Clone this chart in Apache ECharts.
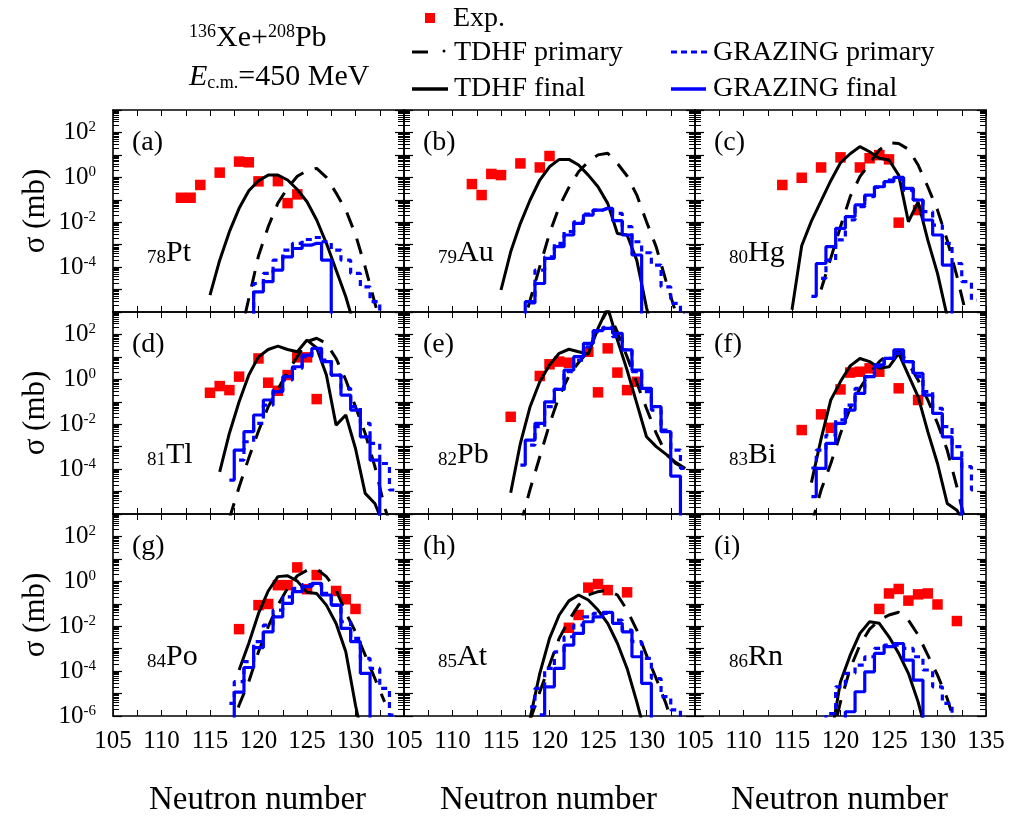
<!DOCTYPE html>
<html><head><meta charset="utf-8">
<script src="https://cdn.jsdelivr.net/npm/echarts@6/dist/echarts.min.js"></script>
<style>html,body{margin:0;padding:0;background:#fff}#c{width:1009px;height:817px}</style>
</head><body><div id="c"></div>
<script>
// ---------- DATA : [neutron number, log10(sigma / mb)] ----------
const panelLetters = ['(a)','(b)','(c)','(d)','(e)','(f)','(g)','(h)','(i)'];
const elementZ = [78,79,80,81,82,83,84,85,86];
const elementSymbol = ['Pt','Au','Hg','Tl','Pb','Bi','Po','At','Rn'];
const xTickValues = [105,110,115,120,125,130,135];
const yTickExponents = [-6,-4,-2,0,2];

// (a) 78Pt
const expA = [[112,-0.91],[113,-0.91],[114,-0.34],[116,0.21],[118,0.70],[119,0.67],[120,-0.18],[122,-0.17],[123,-1.15],[124,-0.76]];
const tdhfPrimA = [[118,-7.3],[119,-5.4],[120,-3.5],[121,-2.2],[122,-1.15],[123,-0.48],[124,0.05],[125,0.30],[126,0.40],[127,0.0],[128,-0.70],[129,-1.45],[130,-2.55],[131,-4.0],[132,-5.6],[133,-7.2]];
const tdhfFinA = [[115,-5.25],[116,-3.69],[117,-2.42],[118,-1.38],[119,-0.60],[120,-0.15],[121,0.10],[122,0.10],[123,-0.12],[124,-0.54],[125,-1.09],[126,-1.90],[127,-2.94],[128,-4.13],[129,-5.32],[130,-6.8]];
const gzPrimA = [[119,-6.6],[120,-4.73],[121,-4.28],[122,-3.69],[123,-3.24],[124,-2.94],[125,-2.77],[126,-2.68],[127,-2.87],[128,-3.24],[129,-3.69],[130,-4.28],[131,-4.88],[132,-5.54],[133,-6.5]];
const gzFinA = [[119,-7],[120,-5.1],[121,-4.65],[122,-4.13],[123,-3.54],[124,-3.17],[125,-3.02],[126,-2.94],[127,-3.69],[128,-7]];

// (b) 79Au
const expB = [[112,-0.30],[113,-0.79],[114,0.15],[115,0.10],[117,0.62],[119,0.44],[120,0.95]];
const tdhfPrimB = [[117,-7],[118,-5.47],[119,-3.98],[120,-2.50],[121,-1.31],[122,-0.45],[123,0.25],[124,0.70],[125,1.0],[126,1.07],[127,0.62],[128,0.06],[129,-0.79],[130,-1.98],[131,-3.1],[132,-4.6],[133,-6.0]];
const tdhfFinB = [[115,-5.02],[116,-3.32],[117,-2.05],[118,-1.01],[119,-0.12],[120,0.47],[121,0.80],[122,0.80],[123,0.55],[124,0.10],[125,-0.42],[126,-1.16],[127,-2.50],[128,-2.57],[129,-3.7],[130,-5.8],[131,-7.5]];
const gzPrimB = [[118,-5.6],[119,-4.13],[120,-3.54],[121,-2.94],[122,-2.42],[123,-1.98],[124,-1.64],[125,-1.46],[126,-1.38],[127,-1.61],[128,-2.20],[129,-2.87],[130,-3.36],[131,-3.91],[132,-4.88],[133,-5.62],[134,-6.1]];
const gzFinB = [[117,-7],[118,-5.54],[119,-4.73],[120,-3.61],[121,-3.09],[122,-2.57],[123,-2.05],[124,-1.68],[125,-1.46],[126,-1.38],[127,-1.93],[128,-2.57],[129,-3.46],[130,-7]];

// (c) 80Hg
const expC = [[114,-0.34],[116,-0.02],[118,0.44],[120,0.89],[122,0.44],[123,0.85],[124,0.99],[125,0.80],[126,-2.02],[128,-1.46]];
const tdhfPrimC = [[118,-5.0],[119,-3.6],[120,-2.2],[121,-0.86],[122,0.03],[123,0.62],[124,1.22],[125,1.54],[126,1.51],[127,1.25],[128,0.55],[129,-0.42],[130,-1.46],[131,-2.80],[132,-4.4],[133,-6.2]];
const tdhfFinC = [[115,-5.9],[116,-3.05],[117,-1.95],[118,-1.05],[119,-0.15],[120,0.65],[121,1.05],[122,1.37],[123,1.14],[124,0.85],[125,0.77],[126,0.10],[127,-1.98],[128,-1.09],[129,-2.80],[130,-4.28],[131,-6.2]];
const gzPrimC = [[118,-4.50],[119,-3.69],[120,-2.79],[121,-1.90],[122,-1.31],[123,-0.86],[124,-0.45],[125,-0.12],[126,-0.09],[127,-0.57],[128,-1.01],[129,-1.53],[130,-2.13],[131,-2.94],[132,-3.84],[133,-4.65],[134,-5.47]];
const gzFinC = [[117,-5.3],[118,-3.84],[119,-3.09],[120,-2.27],[121,-1.75],[122,-1.23],[123,-0.79],[124,-0.42],[125,-0.19],[126,0.0],[127,-0.49],[128,-1.01],[129,-1.90],[130,-2.57],[131,-3.91],[132,-7]];

// (d) 81Tl
const expD = [[115,-0.60],[116,-0.30],[117,-0.48],[118,0.12],[120,0.93],[121,-0.15],[122,-0.51],[123,0.19],[124,0.98],[125,0.98],[126,-0.88]];
const tdhfPrimD = [[117,-6.2],[118,-4.8],[119,-3.5],[120,-2.3],[121,-1.22],[122,-0.45],[123,0.34],[124,1.01],[125,1.68],[126,1.83],[127,1.60],[128,0.93],[129,-0.03],[130,-1.22],[131,-2.41],[132,-3.89],[133,-5.7],[134,-7]];
const tdhfFinD = [[116,-4.12],[117,-2.4],[118,-1.0],[119,0.19],[120,1.0],[121,1.33],[122,1.48],[123,1.33],[124,1.23],[125,1.75],[126,1.40],[127,0.19],[128,-2.04],[129,-1.59],[130,-3.08],[131,-5.08],[132,-5.53],[133,-6.6]];
const gzPrimD = [[118,-3.60],[119,-2.78],[120,-1.96],[121,-1.15],[122,-0.48],[123,-0.03],[124,0.49],[125,1.01],[126,1.23],[127,0.86],[128,0.19],[129,-0.40],[130,-1.22],[131,-1.96],[132,-2.85],[133,-3.75],[134,-4.93]];
const gzFinD = [[117,-4.49],[118,-3.15],[119,-2.33],[120,-1.59],[121,-0.92],[122,-0.55],[123,0.12],[124,0.56],[125,1.08],[126,1.38],[127,0.79],[128,0.19],[129,-0.70],[130,-1.37],[131,-2.56],[132,-3.60],[133,-7]];

// (e) 82Pb
const expE = [[116,-1.67],[119,0.15],[120,0.67],[121,0.79],[122,0.74],[124,1.23],[125,-0.58],[126,1.38],[127,0.30],[128,-0.48],[129,-0.11]];
const tdhfPrimE = [[117,-6.5],[118,-4.9],[119,-3.45],[120,-2.0],[121,-0.75],[122,0.15],[123,0.75],[124,1.25],[125,2.3],[126,3.1],[127,2.1],[128,1.0],[129,-0.15],[130,-1.3],[131,-2.4],[132,-3.3],[133,-3.75],[134,-3.95]];
const tdhfFinE = [[116,-5.05],[117,-2.85],[118,-1.22],[119,-0.11],[120,0.64],[121,1.16],[122,1.34],[123,1.23],[124,1.13],[125,2.27],[126,3.2],[127,1.75],[128,0.41],[129,-1.07],[130,-2.56],[131,-3.0],[132,-3.33],[133,-3.70],[134,-3.97]];
const gzPrimE = [[118,-2.93],[119,-2.11],[120,-1.22],[121,-0.45],[122,0.34],[123,0.86],[124,1.45],[125,2.12],[126,2.32],[127,1.90],[128,1.31],[129,0.34],[130,-0.55],[131,-1.37],[132,-2.26],[133,-3.15],[134,-3.97]];
const gzFinE = [[117,-3.82],[118,-2.71],[119,-1.96],[120,-1.0],[121,-0.45],[122,0.41],[123,1.01],[124,1.60],[125,2.17],[126,2.27],[127,2.05],[128,1.31],[129,0.41],[130,-0.40],[131,-1.22],[132,-2.33],[133,-4.31],[134,-7]];

// (f) 83Bi
const expF = [[116,-2.26],[118,-1.56],[119,-2.16],[120,-0.45],[121,0.30],[122,0.34],[123,0.49],[124,0.34],[126,-0.40],[128,-0.92]];
const tdhfPrimF = [[117,-6.5],[118,-4.93],[119,-3.75],[120,-2.41],[121,-1.29],[122,-0.40],[123,0.27],[124,0.79],[125,1.16],[126,1.31],[127,0.71],[128,-0.03],[129,-0.92],[130,-1.96],[131,-3.15],[132,-4.79],[133,-6.6]];
const tdhfFinF = [[117,-4.6],[118,-2.65],[119,-0.92],[120,-0.10],[121,0.6],[122,0.93],[123,0.79],[124,0.49],[125,0.56],[126,1.16],[127,0.19],[128,-0.77],[129,-2.33],[130,-3.75],[131,-5.53],[132,-5.83],[133,-6.6]];
const gzPrimF = [[117,-3.95],[118,-3.15],[119,-2.48],[120,-1.81],[121,-1.15],[122,-0.40],[123,0.12],[124,0.56],[125,0.93],[126,1.16],[127,0.79],[128,0.12],[129,-0.55],[130,-1.29],[131,-2.11],[132,-3.0],[133,-3.89],[134,-4.93]];
const gzFinF = [[117,-5.23],[118,-3.97],[119,-2.85],[120,-1.96],[121,-1.37],[122,-0.63],[123,0.12],[124,0.64],[125,0.93],[126,1.31],[127,0.79],[128,0.27],[129,-0.70],[130,-1.52],[131,-2.56],[132,-3.52],[133,-7]];

// (g) 84Po
const expG = [[118,-2.13],[120,-1.06],[121,-1.01],[122,-0.17],[123,-0.17],[124,0.62],[125,-0.35],[126,0.28],[128,-0.43],[129,-0.80],[130,-1.23]];
const tdhfPrimG = [[117,-6.8],[118,-5.51],[119,-4.47],[120,-3.14],[121,-2.02],[122,-1.06],[123,-0.31],[124,0.25],[125,0.49],[126,0.55],[127,0.21],[128,-0.39],[129,-1.40],[130,-2.25],[131,-3.29],[132,-4.33],[133,-5.37]];
const tdhfFinG = [[118,-3.95],[119,-2.76],[120,-1.43],[121,-0.43],[122,0.21],[123,0.25],[124,0.01],[125,-0.49],[126,-0.54],[127,-1.06],[128,-1.88],[129,-3.14],[130,-5.52],[131,-7.5]];
const gzPrimG = [[117,-5.44],[118,-4.47],[119,-3.58],[120,-2.69],[121,-1.95],[122,-1.28],[123,-0.69],[124,-0.31],[125,-0.14],[126,-0.17],[127,-0.54],[128,-1.06],[129,-1.80],[130,-2.54],[131,-3.43],[132,-3.88],[133,-4.77],[134,-5.96]];
const gzFinG = [[117,-7],[118,-4.94],[119,-3.84],[120,-2.95],[121,-2.25],[122,-1.58],[123,-0.98],[124,-0.46],[125,-0.24],[126,-0.09],[127,-0.61],[128,-1.06],[129,-2.10],[130,-2.69],[131,-4.10],[132,-7]];

// (h) 85At
const expH = [[122,-2.07],[123,-1.50],[124,-0.28],[125,-0.12],[126,-0.39],[128,-0.49]];
const tdhfPrimH = [[118,-6.2],[119,-4.92],[120,-3.73],[121,-2.54],[122,-1.73],[123,-1.06],[124,-0.61],[125,-0.46],[126,-0.39],[127,-0.61],[128,-1.28],[129,-2.17],[130,-3.29],[131,-4.33],[132,-5.44],[133,-6.8]];
const tdhfFinH = [[118,-6.1],[119,-4.10],[120,-2.54],[121,-1.50],[122,-0.87],[123,-0.61],[124,-0.83],[125,-1.28],[126,-1.87],[127,-2.76],[128,-3.88],[129,-5.37],[130,-7]];
const gzPrimH = [[118,-5.59],[119,-4.77],[120,-3.88],[121,-3.14],[122,-2.47],[123,-1.95],[124,-1.58],[125,-1.43],[126,-1.43],[127,-1.73],[128,-2.17],[129,-2.69],[130,-3.43],[131,-4.33],[132,-5.14],[133,-5.73],[134,-6.2]];
const gzFinH = [[119,-5.95],[120,-4.70],[121,-3.88],[122,-2.84],[123,-2.32],[124,-1.80],[125,-1.58],[126,-1.38],[127,-1.87],[128,-2.25],[129,-3.36],[130,-4.55],[131,-7]];

// (i) 86Rn
const expI = [[124,-1.23],[125,-0.54],[126,-0.34],[127,-0.86],[128,-0.58],[129,-0.54],[130,-1.03],[132,-1.77]];
const tdhfPrimI = [[119,-7.2],[120,-5.37],[121,-3.88],[122,-2.84],[123,-2.13],[124,-1.73],[125,-1.50],[126,-1.38],[127,-1.73],[128,-2.39],[129,-3.29],[130,-4.18],[131,-5.22],[132,-6.6]];
const tdhfFinI = [[119,-7],[120,-4.47],[121,-3.29],[122,-2.32],[123,-1.80],[124,-1.87],[125,-2.47],[126,-3.21],[127,-4.10],[128,-5.37],[129,-7]];
const gzPrimI = [[118,-7],[119,-5.89],[120,-4.70],[121,-4.10],[122,-3.73],[123,-3.36],[124,-2.99],[125,-2.84],[126,-2.84],[127,-2.99],[128,-3.36],[129,-3.95],[130,-4.70],[131,-5.44],[132,-7]];
const gzFinI = [[120,-7],[121,-5.81],[122,-4.92],[123,-4.03],[124,-3.21],[125,-2.91],[126,-2.77],[127,-3.51],[128,-4.40],[129,-7]];

const expAll = [expA,expB,expC,expD,expE,expF,expG,expH,expI];
const tdhfPrimAll = [tdhfPrimA,tdhfPrimB,tdhfPrimC,tdhfPrimD,tdhfPrimE,tdhfPrimF,tdhfPrimG,tdhfPrimH,tdhfPrimI];
const tdhfFinAll = [tdhfFinA,tdhfFinB,tdhfFinC,tdhfFinD,tdhfFinE,tdhfFinF,tdhfFinG,tdhfFinH,tdhfFinI];
const gzPrimAll = [gzPrimA,gzPrimB,gzPrimC,gzPrimD,gzPrimE,gzPrimF,gzPrimG,gzPrimH,gzPrimI];
const gzFinAll = [gzFinA,gzFinB,gzFinC,gzFinD,gzFinE,gzFinF,gzFinG,gzFinH,gzFinI];

// ---------- LAYOUT ----------
const FONT = '"Liberation Serif","Times New Roman",serif';
const colLeft = [113, 404, 695];
const rowTop = [110, 312, 514];
const PW = 291, PH = 202;
const Y_MIN = -6, Y_MAX = 3;

const minorVals = [];
for (let n = Y_MIN; n < Y_MAX; n++) for (let k = 2; k <= 9; k++) minorVals.push(n + Math.log10(k));

const grids = [], xAxes = [], yAxes = [], series = [], graphics = [];
const AXLINE = {show: true, onZero: false, lineStyle: {color: '#000', width: 1.6}};

for (let i = 0; i < 9; i++) {
  const row = Math.floor(i / 3), col = i % 3;
  const L = colLeft[col], T = rowTop[row];
  grids.push({left: L, top: T, width: PW, height: PH, containLabel: false});
  const xLab = {
    show: row === 2, fontFamily: FONT, fontSize: 25, color: '#000', margin: 13,
    formatter: v => (xTickValues.includes(v) && !(v === 135 && col < 2)) ? String(v) : ''
  };
  ['bottom','top'].forEach((pos, k) => xAxes.push({
    gridIndex: i, type: 'value', position: pos, min: 105, max: 135, interval: 2.5,
    axisLine: AXLINE, splitLine: {show: false},
    axisTick: {show: true, inside: true, length: 6, lineStyle: {color: '#000', width: 1}},
    axisLabel: k === 0 ? xLab : {show: false}
  }));
  const labs = row === 2 ? yTickExponents : yTickExponents.filter(e => e !== -6);
  const yLab = {
    show: col === 0, margin: 8, formatter: v => labs.includes(v) ? '{b|10}{s|' + v + '}' : '',
    rich: {
      b: {fontFamily: FONT, fontSize: 25, color: '#000', lineHeight: 25, padding: [9, 0, 0, 0], verticalAlign: 'bottom'},
      s: {fontFamily: FONT, fontSize: 15, color: '#000', lineHeight: 15, padding: [0, 9, 0, 0], verticalAlign: 'top'}
    }
  };
  ['left','right'].forEach(pos => {
    yAxes.push({
      gridIndex: i, type: 'value', position: pos, min: Y_MIN, max: Y_MAX, interval: 1,
      axisLine: AXLINE, splitLine: {show: false},
      axisTick: {show: true, inside: true, length: 9, lineStyle: {color: '#000', width: 1.2}},
      axisLabel: pos === 'left' ? yLab : {show: false}
    });
    yAxes.push({
      gridIndex: i, type: 'value', position: pos, min: Y_MIN, max: Y_MAX, interval: 1,
      axisLine: {show: false, onZero: false}, splitLine: {show: false}, axisLabel: {show: false},
      axisTick: {show: true, inside: true, length: 6, customValues: minorVals, lineStyle: {color: '#000', width: 1}}
    });
  });
  const xi = 2 * i, yi = 4 * i;
  series.push({type: 'scatter', xAxisIndex: xi, yAxisIndex: yi, data: expAll[i], symbol: 'rect', symbolSize: 10.5,
    itemStyle: {color: '#ff0000', opacity: 1}, z: 2, silent: true});
  series.push({type: 'line', xAxisIndex: xi, yAxisIndex: yi, data: tdhfFinAll[i], symbol: 'none',
    lineStyle: {color: '#000', width: 3}, z: 3, silent: true});
  series.push({type: 'line', xAxisIndex: xi, yAxisIndex: yi, data: tdhfPrimAll[i], symbol: 'none',
    lineStyle: {color: '#000', width: 3, type: [16, 12]}, z: 3, silent: true});
  series.push({type: 'line', xAxisIndex: xi, yAxisIndex: yi, data: gzPrimAll[i], step: 'middle', symbol: 'none',
    lineStyle: {color: '#0000ff', width: 3.2, type: [6, 5]}, z: 4, silent: true});
  series.push({type: 'line', xAxisIndex: xi, yAxisIndex: yi, data: gzFinAll[i], step: 'middle', symbol: 'none',
    lineStyle: {color: '#0000ff', width: 3.2}, z: 4, silent: true});

  // panel letter and element label
  graphics.push({type: 'text', x: L + 19, y: T + 33, z: 10,
    style: {text: panelLetters[i], fontFamily: FONT, fontSize: 28, fill: '#000', align: 'left', verticalAlign: 'middle'}});
  graphics.push({type: 'text', x: L + 34, y: T + 143, z: 10,
    style: {text: '{sub|' + elementZ[i] + '}{el|' + elementSymbol[i] + '}', align: 'left', verticalAlign: 'middle',
      rich: {
        sub: {fontFamily: FONT, fontSize: 19, fill: '#000', lineHeight: 19, verticalAlign: 'bottom'},
        el: {fontFamily: FONT, fontSize: 30, fill: '#000', lineHeight: 30, padding: [0, 0, 7, 0], verticalAlign: 'top'}
      }}});
}

// axis titles
for (let r = 0; r < 3; r++) {
  graphics.push({type: 'text', x: 36, y: rowTop[r] + PH / 2, rotation: Math.PI / 2, z: 10,
    style: {text: 'σ (mb)', fontFamily: FONT, fontSize: 31, fill: '#000', align: 'center', verticalAlign: 'middle'}});
}
for (let c = 0; c < 3; c++) {
  graphics.push({type: 'text', x: colLeft[c] + PW / 2 - 1, y: 800, z: 10,
    style: {text: 'Neutron number', fontFamily: FONT, fontSize: 33, fill: '#000', align: 'center', verticalAlign: 'middle'}});
}
// reaction title
graphics.push({type: 'text', x: 189, y: 38, z: 10, style: {
  text: '{s|136}{b|Xe+}{s|208}{b|Pb}', align: 'left', verticalAlign: 'middle',
  rich: {s: {fontFamily: FONT, fontSize: 18, fill: '#000', lineHeight: 18, verticalAlign: 'top'},
         b: {fontFamily: FONT, fontSize: 30, fill: '#000', lineHeight: 30, padding: [8, 0, 0, 0], verticalAlign: 'bottom'}}}});
graphics.push({type: 'text', x: 189, y: 77, z: 10, style: {
  text: '{i|E}{sub|c.m.}{b|=450 MeV}', align: 'left', verticalAlign: 'middle',
  rich: {i: {fontFamily: FONT, fontSize: 30, fontStyle: 'italic', fill: '#000', lineHeight: 30, padding: [0, 0, 7, 0], verticalAlign: 'top'},
         sub: {fontFamily: FONT, fontSize: 18, fill: '#000', lineHeight: 18, verticalAlign: 'bottom'},
         b: {fontFamily: FONT, fontSize: 30, fill: '#000', lineHeight: 30, padding: [0, 0, 7, 0], verticalAlign: 'top'}}}});

// legend
const legTxt = (t, x, y) => ({type: 'text', x, y, z: 10,
  style: {text: t, fontFamily: FONT, fontSize: 28, fill: '#000', align: 'left', verticalAlign: 'middle'}});
graphics.push({type: 'rect', shape: {x: 425, y: 13, width: 10, height: 10}, style: {fill: '#ff0000'}, z: 10});
graphics.push(legTxt('Exp.', 453, 19));
graphics.push({type: 'line', shape: {x1: 412, y1: 52, x2: 428, y2: 52}, style: {stroke: '#000', lineWidth: 3}, z: 10});
graphics.push({type: 'circle', shape: {cx: 444, cy: 51, r: 1.5}, style: {fill: '#000'}, z: 10});
graphics.push(legTxt('TDHF primary', 454, 53));
graphics.push({type: 'line', shape: {x1: 412, y1: 89, x2: 448, y2: 89}, style: {stroke: '#000', lineWidth: 3.5}, z: 10});
graphics.push(legTxt('TDHF final', 454, 89));
graphics.push({type: 'line', shape: {x1: 671, y1: 52, x2: 708, y2: 52}, style: {stroke: '#0000ff', lineWidth: 3, lineDash: [6, 4]}, z: 10});
graphics.push(legTxt('GRAZING primary', 713, 53));
graphics.push({type: 'line', shape: {x1: 671, y1: 89, x2: 706, y2: 89}, style: {stroke: '#0000ff', lineWidth: 3.5}, z: 10});
graphics.push(legTxt('GRAZING final', 713, 89));

const chart = echarts.init(document.getElementById('c'), null, {renderer: 'canvas'});
chart.setOption({
  backgroundColor: '#fff',
  animation: false,
  grid: grids, xAxis: xAxes, yAxis: yAxes, series: series, graphic: graphics
});
</script></body></html>
